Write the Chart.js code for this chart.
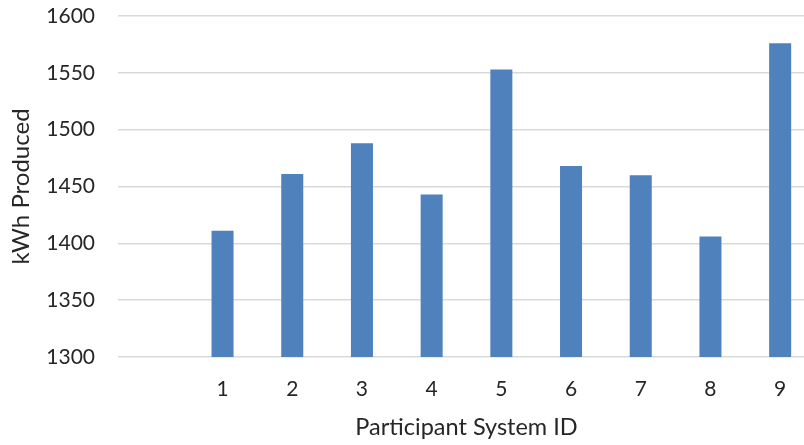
<!DOCTYPE html>
<html>
<head>
<meta charset="utf-8">
<script src="https://cdn.jsdelivr.net/npm/chart.js@4/dist/chart.umd.min.js"></script>
<style>
  html, body { margin: 0; padding: 0; background: #ffffff; overflow: hidden; }
  #wrap { width: 815px; height: 445px; }
</style>
</head>
<body>
<div id="wrap"><canvas id="c" width="815" height="445"></canvas></div>
<script>
// Participant systems (first slot left empty, as on the original axis)
const systemIds = ['', '1', '2', '3', '4', '5', '6', '7', '8', '9'];
const kwhProduced = [null, 1411, 1461, 1488, 1443, 1553, 1468, 1460, 1406, 1576];
const yTicks = [1300, 1350, 1400, 1450, 1500, 1550, 1600];

const FONT = 'Lato, "Open Sans", sans-serif';
const TEXT = '#262626';

new Chart(document.getElementById('c'), {
  type: 'bar',
  data: {
    labels: systemIds,
    datasets: [{
      label: 'kWh Produced',
      data: kwhProduced,
      backgroundColor: '#4f81bd',
      borderWidth: 0,
      categoryPercentage: 1,
      barPercentage: 0.316
    }]
  },
  options: {
    responsive: false,
    animation: false,
    layout: { padding: { top: 16, right: 0, bottom: 0, left: 0 } },
    plugins: { legend: { display: false }, tooltip: { enabled: false } },
    scales: {
      x: {
        grid: { display: false, drawTicks: false },
        border: { display: false },
        ticks: { color: TEXT, font: { family: FONT, size: 21 }, padding: 20, maxRotation: 0 },
        title: {
          display: true, text: 'Participant System ID', color: TEXT,
          font: { family: FONT, size: 23.5 }, padding: { top: 0, bottom: 3 }
        },
        afterFit: (s) => { s.height = 88; s.paddingLeft = 0; s.paddingRight = 0; }
      },
      y: {
        min: yTicks[0],
        max: yTicks[yTicks.length - 1],
        afterBuildTicks: (s) => { s.ticks = yTicks.map(v => ({ value: v })); },
        grid: { color: '#d9d9d9', lineWidth: 1.5, drawTicks: false },
        border: { display: false },
        ticks: {
          color: TEXT, font: { family: FONT, size: 21 }, padding: 23,
          callback: (v) => String(v)
        },
        title: {
          display: true, text: 'kWh Produced', color: TEXT,
          font: { family: FONT, size: 24 }, padding: { top: 7, bottom: 0 }
        },
        afterFit: (s) => { s.width = 118; s.paddingTop = 0; s.paddingBottom = 0; }
      }
    }
  }
});
</script>
</body>
</html>
